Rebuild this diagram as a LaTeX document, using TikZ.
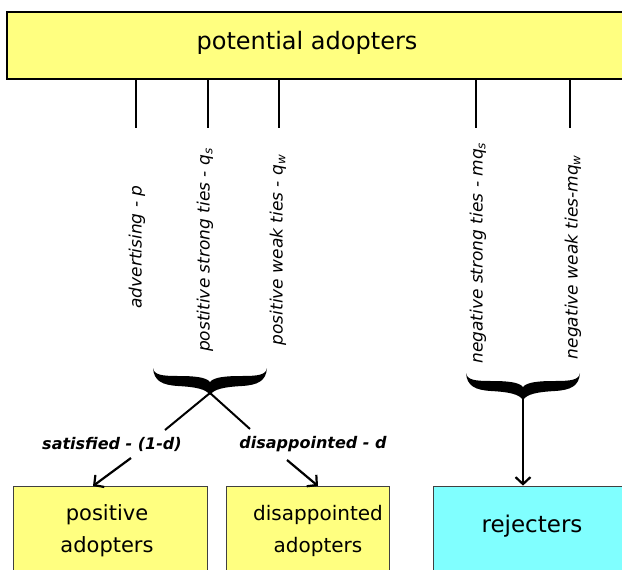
\documentclass[tikz,border=0pt]{standalone}
\usepackage{fontspec}
\setmainfont{DejaVu Sans}
\usetikzlibrary{arrows.meta}
\definecolor{boxyellow}{HTML}{FFFF80}
\definecolor{boxcyan}{HTML}{80FFFF}
\tikzset{
  topbox/.style={draw=black, fill=boxyellow, line width=1.4pt, inner sep=0pt,
    minimum width=623pt, minimum height=67pt},
  toptext/.style={inner sep=0pt, font=\fontsize{24}{28}\selectfont},
  statebox/.style={draw=black!75, line width=0.8pt, inner sep=0pt, minimum height=90pt},
  statetext/.style={inner sep=0pt, align=center, font=\fontsize{21}{32}\selectfont},
  tie/.style={line width=1.3pt},
  rotlabel/.style={rotate=90, inner sep=0pt, font=\itshape\fontsize{17}{20}\selectfont},
  edgelabel/.style={inner sep=0pt, font=\bfseries\itshape\fontsize{16}{19}\selectfont},
  branch/.style={line width=2pt},
  arr/.style={line width=2.2pt, -{Straight Barb[length=7pt,width=15pt,line width=2.2pt]}},
  pics/bigbrace/.style={code={
    \fill (-57,0) .. controls (-56,7) and (-48,8) .. (-32,8)
      .. controls (-16,8) and (-4,9) .. (0,14)
      .. controls (4,9) and (16,8) .. (32,8)
      .. controls (48,8) and (56,7) .. (57,0)
      .. controls (56,13) and (48,17) .. (32,18)
      .. controls (14,19) and (4,21) .. (0,27)
      .. controls (-4,21) and (-14,19) .. (-32,18)
      .. controls (-48,17) and (-56,13) .. (-57,0) -- cycle;
  }}
}
\begin{document}
\begin{tikzpicture}[x=1pt,y=-1pt]
\useasboundingbox (0,0) rectangle (622,570);
\clip (0,0) rectangle (622,570);
\fill[white] (0,0) rectangle (622,570);

% top box
\node[topbox] (top) at (318.5,45.5) {};
\node[toptext] (toplabel) at (307,43) {potential adopters};

% ties
\coordinate (l1) at (136,128);
\coordinate (l2) at (208,128);
\coordinate (l3) at (279,128);
\coordinate (l4) at (476,128);
\coordinate (l5) at (570,128);
\foreach \c in {l1,l2,l3,l4,l5} \draw[tie] (top.south -| \c) -- (\c);

% rotated labels
\node[rotlabel] (adv) at (137,247) {advertising - p};
\node[rotlabel] (pst) at (205,250) {postitive strong ties - q\textsubscript{s}};
\node[rotlabel] (pwk) at (278,250) {positive weak ties - q\textsubscript{w}};
\node[rotlabel] (nst) at (478,253) {negative strong ties - mq\textsubscript{s}};
\node[rotlabel] (nwk) at (573,257) {negative weak ties-mq\textsubscript{w}};

% braces
\pic at (210,368) {bigbrace};
\pic at (523,373) {bigbrace};
\coordinate (ltip) at (210,393);
\coordinate (rtip) at (523,398);

% bottom boxes
\node[statebox, fill=boxyellow, minimum width=194pt] (pos) at (110,531) {};
\node[statebox, fill=boxyellow, minimum width=163pt] (dis) at (307.5,531) {};
\node[statebox, fill=boxcyan, minimum width=197pt] (rej) at (531.5,531) {};
\node[statetext] (postext) at (107,531) {positive\\adopters};
\node[statetext, font=\fontsize{20}{32}\selectfont] (distext) at (318,531) {disappointed\\adopters};
\node[statetext, font=\fontsize{23}{28}\selectfont] (rejtext) at (532,526) {rejecters};

% branches
\coordinate (bl) at (165,430);
\coordinate (br) at (250,429);
\draw[branch] (ltip) -- (bl);
\draw[branch] (ltip) -- (br);
\node[edgelabel] (sat) at (112,444) {satisfied - (1-d)};
\node[edgelabel] (dsp) at (313,444) {disappointed - d};

\coordinate (a1s) at (131,458);
\coordinate (a1e) at (93,486);
\coordinate (a2s) at (287,460);
\coordinate (a2e) at (318,486);
\draw[arr] (a1s) -- (a1e);
\draw[arr] (a2s) -- (a2e);
\draw[arr] (rtip) -- (rej.north -| rtip);
\end{tikzpicture}
\end{document}
